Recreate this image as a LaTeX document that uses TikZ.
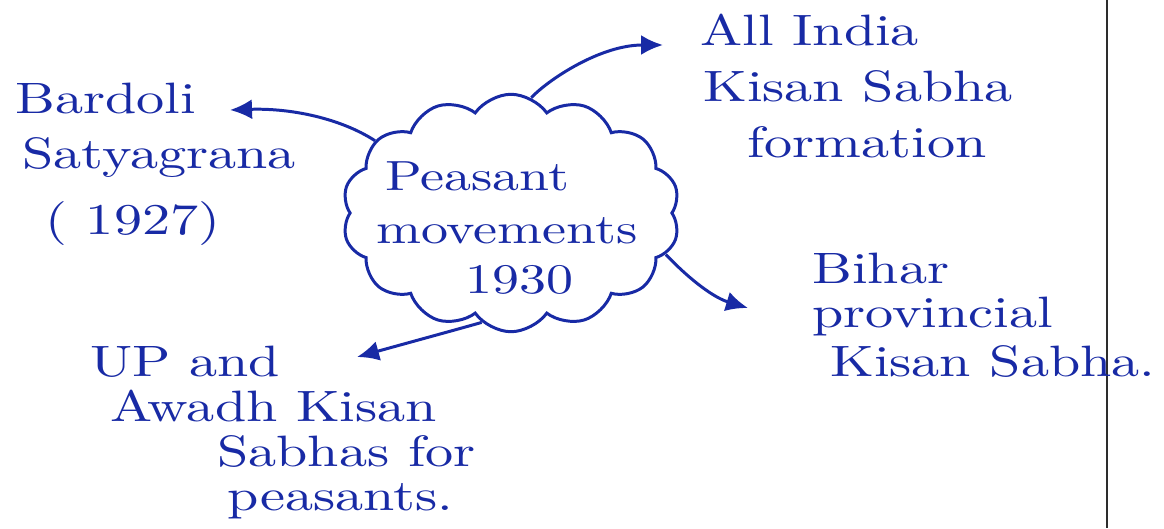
\documentclass[tikz,border=0pt]{standalone}
\usepackage{fontspec}
\setmainfont{lmroman10-regular.otf}
\newfontfamily\handfont{lmroman10-regular.otf}[FakeStretch=1.28]
\usetikzlibrary{shapes.symbols,arrows.meta}
\definecolor{ink}{RGB}{24,42,165}
\definecolor{margin}{RGB}{45,45,45}
\begin{document}
\begin{tikzpicture}[x=0.02cm,y=-0.02cm,
  word/.style={anchor=base west,inner sep=0pt,text=ink,font=\handfont\fontsize{25}{30}\selectfont},
  cloudword/.style={word,font=\handfont\fontsize{24}{28}\selectfont},
  link/.style={draw=ink,line width=1.7pt,-{Latex[length=0.44cm,width=0.4cm]}},
  bubble/.style={cloud,cloud puffs=14,cloud puff arc=110,cloud ignores aspect,
    draw=ink,line width=1.7pt,minimum width=6.75cm,minimum height=4.75cm,inner sep=0pt}]
\fill[white] (0,0) rectangle (1164,528);
\useasboundingbox (0,0) rectangle (1164,528);

% margin rule of the page
\draw[margin,line width=1.1pt] (1107,0) coordinate (mtop) -- (1107,528) coordinate (mbot);

% central idea
\node[bubble] (cloud) at (511,213) {};
\node[cloudword] (c1) at (385,190) {Peasant};
\node[cloudword] (c2) at (376,243) {movements};
\node[cloudword] (c3) at (465,293) {1930};

% branches
\node[word] (b1) at (15,113) {Bardoli};
\node[word] (b2) at (22,168) {Satyagrana};
\node[word] (b3) at (45,234) {( 1927)};

\node[word] (a1) at (700,45) {All India};
\node[word] (a2) at (703,101) {Kisan Sabha};
\node[word] (a3) at (747,157) {formation};

\node[word] (h1) at (812,283) {Bihar};
\node[word] (h2) at (812,327) {provincial};
\node[word] (h3) at (830,376) {Kisan Sabha.};

\node[word] (u1) at (90,376) {UP and};
\node[word] (u2) at (110,421) {Awadh Kisan};
\node[word] (u3) at (217,466) {Sabhas for};
\node[word] (u4) at (227,510) {peasants.};

% arrow tips next to each branch
\coordinate (tipB) at (230,110);
\coordinate (tipA) at (663,45);
\coordinate (tipH) at (748,308);
\coordinate (tipU) at (357,357);

\draw[link] (cloud.152) .. controls (340,118) and (290,108) .. (tipB);
\draw[link] (cloud.80) .. controls (548,80) and (600,45) .. (tipA);
\draw[link] (cloud.-15) .. controls (692,282) and (715,298) .. (tipH);
\draw[link] (cloud.-105) .. controls (455,330) and (400,345) .. (tipU);
\end{tikzpicture}
\end{document}
